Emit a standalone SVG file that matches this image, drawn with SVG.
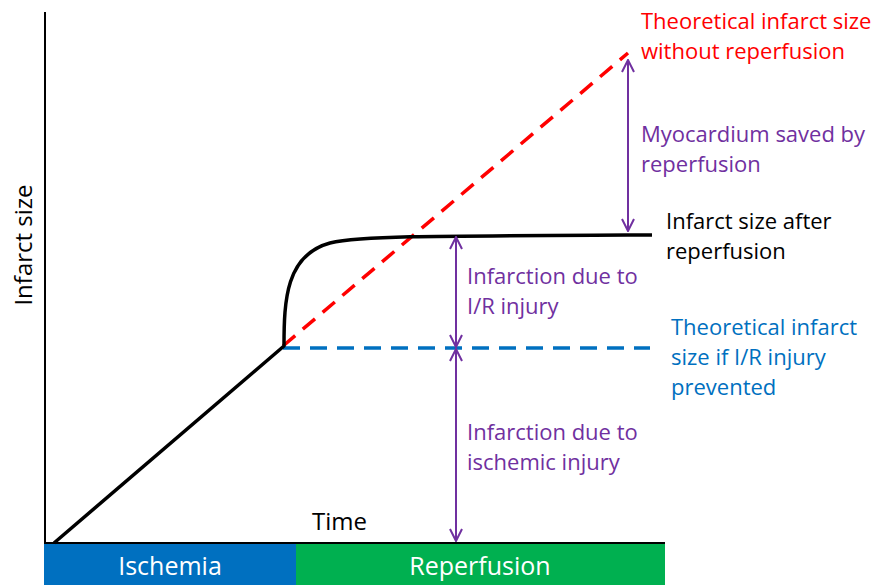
<svg xmlns="http://www.w3.org/2000/svg" width="875" height="585" viewBox="0 0 875 585">
<defs>
<style>
text{font-family:"Open Sans","Liberation Sans",sans-serif;font-size:22px}
.big{font-size:25px}
.pur{fill:#7030A0}
.red{fill:#FF0000}
.blu{fill:#0070C0}
.blk{fill:#000}
.wht{fill:#fff}
.arr{stroke:#7030A0;stroke-width:2;fill:none}
</style>
<marker id="ah" viewBox="0 0 14 14" refX="13" refY="7" markerWidth="14" markerHeight="14" markerUnits="userSpaceOnUse" orient="auto-start-reverse">
<path d="M1,1 L13,7 L1,13" fill="none" stroke="#7030A0" stroke-width="2"/>
</marker>
</defs>
<rect width="875" height="585" fill="#fff"/>
<g id="bars">
<rect x="44" y="544" width="252" height="41" fill="#0070C0"/>
<rect x="296" y="544" width="369" height="41" fill="#00B050"/>
<text class="wht big" x="170" y="575" text-anchor="middle">Ischemia</text>
<text class="wht big" x="480" y="575" text-anchor="middle">Reperfusion</text>
</g>
<g id="axes">
<line x1="45" y1="12" x2="45" y2="544" stroke="#000" stroke-width="2"/>
<line x1="44" y1="543" x2="665" y2="543" stroke="#000" stroke-width="2"/>
<text class="blk" style="font-size:24px" transform="translate(32,245) rotate(-90)" text-anchor="middle">Infarct size</text>
<text class="blk" style="font-size:24px" x="312" y="530">Time</text>
</g>
<g id="curves">
<path d="M283,346 L628,53" stroke="#FF0000" stroke-width="3.5" stroke-dasharray="16 10" fill="none"/>
<path d="M283,348 L650,348" stroke="#0070C0" stroke-width="3.5" stroke-dasharray="17 10" fill="none"/>
<path d="M54,543 L284,346 C284,300 286,255 330,243 C360,236 420,236 652,235" stroke="#000" stroke-width="3.5" fill="none" stroke-linejoin="round"/>
</g>
<g id="connectors">
<line class="arr" x1="628" y1="60" x2="628" y2="231" marker-start="url(#ah)" marker-end="url(#ah)"/>
<line class="arr" x1="456" y1="237" x2="456" y2="347" marker-start="url(#ah)" marker-end="url(#ah)"/>
<line class="arr" x1="456" y1="349" x2="456" y2="541" marker-start="url(#ah)" marker-end="url(#ah)"/>
</g>
<g id="label-theoretical-no-reperfusion">
<text class="red" x="641" y="29">Theoretical infarct size</text>
<text class="red" x="641" y="59">without reperfusion</text>
</g>
<g id="label-myocardium-saved">
<text class="pur" x="641" y="142">Myocardium saved by</text>
<text class="pur" x="641" y="172">reperfusion</text>
</g>
<g id="label-infarct-after">
<text class="blk" x="666" y="229">Infarct size after</text>
<text class="blk" x="666" y="259">reperfusion</text>
</g>
<g id="label-ir-injury">
<text class="pur" x="467" y="284">Infarction due to</text>
<text class="pur" x="467" y="314">I/R injury</text>
</g>
<g id="label-theoretical-ir-prevented">
<text class="blu" x="671" y="335">Theoretical infarct</text>
<text class="blu" x="671" y="365">size if I/R injury</text>
<text class="blu" x="671" y="395">prevented</text>
</g>
<g id="label-ischemic-injury">
<text class="pur" x="467" y="440">Infarction due to</text>
<text class="pur" x="467" y="470">ischemic injury</text>
</g>
</svg>
